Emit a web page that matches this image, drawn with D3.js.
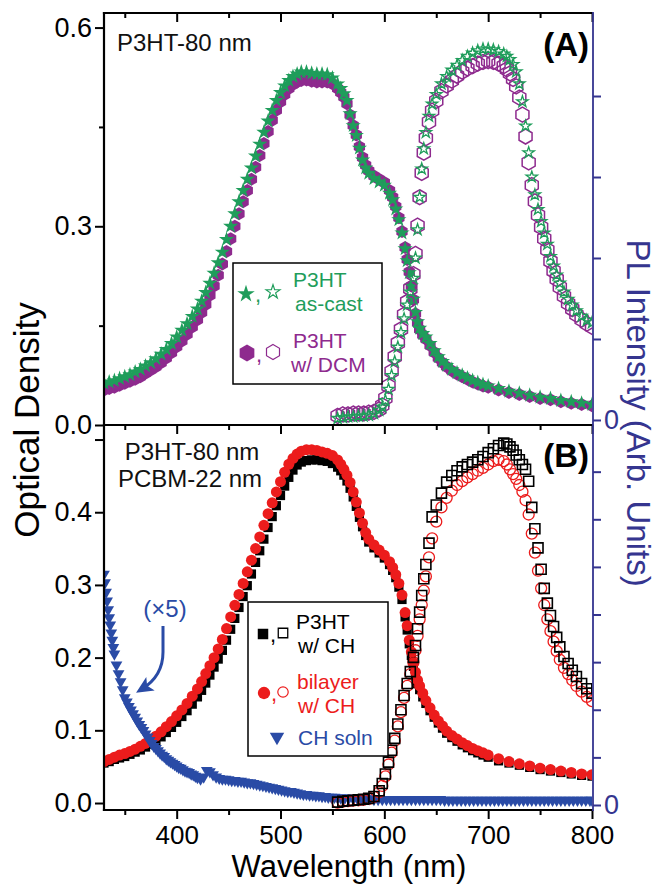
<!DOCTYPE html>
<html>
<head>
<meta charset="utf-8">
<script src="https://cdn.jsdelivr.net/npm/d3@7"></script>
<style>
  body { margin: 0; background: #fff; }
  svg { display: block; }
</style>
</head>
<body>
<div id="chart"></div>
<script>
// ---- data ----
// absorption wavelength grid (nm), denser where the curves are steep
const absWl = [330,335,340,345,350,355,360,365,370,375,380,385,390,395,400,405,410,415,
  420,424,428,432,436,440,444,448,452,456,460,464,468,472,476,480,484,488,492,496,500,504,508,512,516,520,
  525,530,535,540,545,550,555,
  558,561,564,567,570,573,576,579,582,585,
  590,595,600,605,
  608,611,614,617,620,
  622,624,626,628,630,632,634,
  637,640,
  644,648,652,656,660,
  665,670,675,680,685,690,695,700,
  710,720,730,740,750,760,770,780,790,800];

// panel A, optical density
const absAsCast = [.063,.065,.067,.070,.073,.076,.080,.084,.089,.094,.100,.107,.114,.123,.133,.143,.153,.164,
  .175,.187,.200,.214,.229,.245,.261,.280,.300,.319,.337,.354,.371,.388,.406,.424,.442,.459,.475,.490,.502,.512,.520,.526,.530,.533,
  .533,.531,.530,.530,.529,.524,.515,
  .508,.500,.490,.470,.452,.437,.418,.400,.388,.380,
  .372,.367,.362,.350,
  .340,.326,.310,.290,.266,
  .248,.230,.210,.190,.170,.156,.146,
  .138,.133,
  .123,.112,.103,.096,.090,
  .084,.079,.075,.071,.067,.064,.061,.059,
  .055,.051,.048,.045,.042,.040,.037,.035,.033,.031];
const absDCM = [.053,.055,.057,.060,.063,.066,.069,.073,.078,.083,.088,.094,.101,.109,.118,.127,.137,.148,
  .159,.170,.182,.196,.210,.226,.243,.262,.281,.300,.319,.337,.354,.371,.389,.407,.425,.443,.460,.475,.488,.499,.508,.514,.518,.520,
  .521,.519,.518,.518,.518,.515,.508,
  .502,.495,.485,.468,.452,.438,.420,.404,.392,.384,
  .376,.371,.366,.354,
  .344,.330,.313,.292,.268,
  .250,.231,.210,.189,.168,.154,.144,
  .136,.130,
  .120,.110,.101,.094,.088,
  .082,.077,.073,.069,.065,.062,.059,.057,
  .053,.049,.046,.043,.040,.038,.035,.033,.031,.029];

// panel B, optical density
const absBilayerCH = [.057,.060,.063,.066,.068,.071,.074,.078,.082,.087,.092,.098,.105,.112,.120,.128,.137,.147,
  .157,.167,.178,.189,.200,.212,.225,.240,.256,.272,.287,.302,.318,.334,.350,.366,.382,.398,.413,.428,.442,.455,.466,.474,.480,.484,
  .486,.486,.485,.483,.481,.478,.472,
  .466,.459,.451,.441,.428,.414,.399,.385,.372,.363,
  .355,.348,.341,.332,
  .324,.314,.302,.286,.262,
  .244,.224,.208,.193,.180,.169,.161,
  .151,.141,
  .131,.121,.113,.106,.099,
  .093,.088,.083,.079,.075,.072,.069,.066,
  .061,.057,.054,.051,.048,.046,.044,.042,.040,.039];
const absP3htCH = [.055,.057,.060,.062,.064,.067,.070,.073,.077,.081,.086,.091,.097,.104,.111,.119,.127,.136,
  .146,.155,.165,.176,.187,.198,.210,.224,.239,.254,.269,.284,.299,.315,.331,.347,.363,.379,.394,.409,.423,.436,.448,.458,.465,.469,
  .471,.472,.472,.471,.470,.467,.462,
  .457,.451,.443,.433,.421,.408,.393,.380,.368,.359,
  .351,.344,.337,.328,
  .320,.310,.297,.280,.256,
  .238,.219,.203,.188,.175,.164,.156,
  .146,.137,
  .127,.118,.110,.103,.096,
  .090,.085,.080,.076,.072,.069,.066,.063,
  .058,.055,.052,.049,.046,.044,.042,.040,.038,.037];

// CH solution (x5), panel B optical density
const chWl = [330,331,332,333,334,335,336,337,338,339,340,
  342,344,346,348,350,352,354,356,358,360,362,364,366,368,370,372,374,376,378,380,
  382,384,386,388,390,392,394,396,398,400,402,404,406,408,410,412,414,416,418,420,
  423,426,429,432,435,438,441,444,447,450,453,456,459,462,465,468,471,474,477,480,
  483,486,489,492,495,498,501,504,507,510,513,516,519,522,525,528,531,534,537,540,
  543,546,549,552,555,558,
  562,566,570,574,578,582,586,590,594,598,602,606,610,614,618,622,626,630,634,638,
  642,646,650,654,658,662,666,670,674,678,682,686,690,694,698,702,706,710,714,718,
  722,726,730,734,738,742,746,750,754,758,762,766,770,774,778,782,786,790,794,798,800];
const chSoln = [.315,.303,.290,.278,.266,.255,.245,.234,.224,.214,.205,
  .190,.178,.167,.156,.145,.139,.133,.128,.123,.118,.113,.108,.104,.100,.095,.091,.086,.082,.078,.075,
  .072,.069,.066,.064,.061,.059,.057,.055,.053,.051,.049,.048,.046,.044,.043,.042,.040,.039,.037,.035,
  .033,.036,.045,.043,.039,.036,.034,.033,.033,.032,.031,.031,.030,.030,.029,.028,.028,.027,.026,.025,
  .024,.023,.022,.021,.020,.019,.018,.017,.016,.016,.015,.014,.013,.012,.012,.011,.011,.010,.010,.009,
  .009,.008,.008,.008,.007,.007,
  .007,.007,.006,.006,.006,.006,.006,.005,.005,.005,.005,.005,.005,.005,.005,.005,.005,.005,.005,.005,
  .005,.005,.005,.005,.004,.004,.004,.004,.004,.004,.004,.004,.004,.004,.004,.004,.004,.004,.004,.004,
  .004,.004,.004,.004,.004,.004,.004,.004,.004,.004,.004,.004,.004,.004,.004,.004,.004,.004,.004,.004,.004];

// PL wavelength grid (nm)
const plWl = [555,560,565,570,575,580,585,590,595,
  598,601,604,607,610,613,616,619,622,625,628,
  630,632,634,636,638,640,
  643,646,
  650,655,660,665,670,675,680,685,690,695,700,705,710,715,
  718,721,724,727,730,733,736,739,742,745,748,751,754,757,760,763,766,769,
  773,777,781,785,790,795,800];

// panel A, PL (arb. units)
const plAsCast = [.02,.03,.04,.04,.05,.05,.06,.08,.12,
  .16,.24,.38,.55,.72,.90,1.08,1.25,1.42,1.58,1.75,
  2.0,2.35,2.75,3.1,3.35,3.55,
  3.75,3.9,
  4.02,4.15,4.24,4.32,4.38,4.44,4.49,4.53,4.56,4.58,4.58,4.57,4.55,4.52,
  4.49,4.45,4.39,4.3,4.15,3.93,3.63,3.3,3.0,2.78,2.6,2.45,2.31,2.17,2.02,1.9,1.79,1.69,
  1.58,1.49,1.42,1.35,1.28,1.23,1.2];
const plDCM = [.05,.07,.07,.08,.08,.08,.09,.10,.13,
  .18,.27,.42,.6,.78,.95,1.12,1.3,1.46,1.62,1.8,
  2.05,2.4,2.75,3.05,3.3,3.48,
  3.68,3.82,
  3.94,4.06,4.13,4.19,4.25,4.3,4.34,4.37,4.4,4.42,4.43,4.42,4.4,4.37,
  4.33,4.28,4.21,4.12,3.98,3.77,3.5,3.18,2.9,2.7,2.53,2.38,2.24,2.1,1.96,1.84,1.74,1.64,
  1.53,1.44,1.37,1.3,1.24,1.19,1.15];

// panel B, PL (arb. units)
const plP3htCH = [.06,.08,.09,.10,.11,.12,.14,.18,.3,
  .45,.65,.9,1.15,1.4,1.7,2.0,2.3,2.55,2.8,3.1,
  3.35,3.7,4.05,4.4,4.75,5.05,
  5.5,6.05,
  6.3,6.55,6.78,6.92,7.02,7.1,7.15,7.2,7.25,7.32,7.4,7.48,7.55,7.6,
  7.58,7.52,7.45,7.35,7.25,7.15,7.05,6.8,6.25,5.8,5.4,4.95,4.55,4.24,3.98,3.75,3.52,3.32,
  3.12,2.97,2.83,2.7,2.55,2.44,2.35];
const plBilayerCH = [.05,.07,.08,.09,.10,.11,.13,.17,.27,
  .4,.6,.85,1.1,1.35,1.65,1.95,2.25,2.5,2.75,3.0,
  3.25,3.55,3.9,4.2,4.5,4.8,
  5.2,5.6,
  5.95,6.25,6.45,6.6,6.72,6.8,6.88,6.95,7.02,7.08,7.15,7.22,7.25,7.22,
  7.15,7.05,6.95,6.85,6.72,6.58,6.4,6.1,5.7,5.3,4.92,4.55,4.2,3.9,3.65,3.43,3.23,3.05,
  2.88,2.75,2.62,2.5,2.38,2.27,2.18];

// ticks
const xMajor = [400, 500, 600, 700, 800];
const xMinor = [350, 450, 550, 650, 750];
const yAMajor = [0, 0.3, 0.6];
const yAMinor = [0.15, 0.45];
const yBMajor = [0, 0.1, 0.2, 0.3, 0.4, 0.5];
const plATicks = [0, 1, 2, 3, 4];
const plBTicks = [0, 1, 2, 3, 4, 5, 6, 7];

// ---- drawing ----
const FONT = '"Liberation Sans", Arial, Helvetica, sans-serif';
const GREEN = "#1f9d5b", PURPLE = "#8e2a8e", RED = "#ec1c1c", BLUE = "#2a4ba6", NAVY = "#35358f";
const W = 657, H = 884;
const L = 104, R = 592, TOP = 13, MID = 425, BOT = 810;

const svg = d3.select("#chart").append("svg")
    .attr("width", W).attr("height", H)
    .style("font-family", FONT);

const x = d3.scaleLinear().domain([330, 800]).range([L, R]);
const yA = d3.scaleLinear().domain([0, 0.622]).range([MID, TOP]);
const plA = d3.scaleLinear().domain([-0.062, 5.025]).range([MID, TOP]);
const yB = d3.scaleLinear().domain([-0.0096, 0.52]).range([BOT, MID]);
const plB = d3.scaleLinear().domain([-0.105, 7.98]).range([BOT, MID]);

// marker shapes
function hexagon(r) {
    const pts = d3.range(6).map(k => {
        const a = Math.PI / 180 * (-90 + 60 * k);
        return [r * Math.cos(a), r * Math.sin(a)];
    });
    return "M" + pts.map(p => p[0].toFixed(2) + "," + p[1].toFixed(2)).join("L") + "Z";
}
const starPath = s => d3.symbol(d3.symbolStar, s)();
const squarePath = s => d3.symbol(d3.symbolSquare, s)();
const circlePath = s => d3.symbol(d3.symbolCircle, s)();
const triDownPath = s => d3.symbol(d3.symbolTriangle, s)();

const defs = svg.append("defs");
defs.append("clipPath").attr("id", "clipA").append("rect")
    .attr("x", L).attr("y", TOP).attr("width", R - L).attr("height", MID - TOP);
defs.append("clipPath").attr("id", "clipB").append("rect")
    .attr("x", L).attr("y", MID).attr("width", R - L).attr("height", BOT - MID);

function drawSeries(g, wl, vals, yScale, pathD, opts) {
    g.append("g").selectAll("path")
        .data(wl.map((w, i) => [w, vals[i]]))
        .join("path")
        .attr("d", pathD)
        .attr("transform", d => `translate(${x(d[0])},${yScale(d[1])})${opts.rotate ? " rotate(180)" : ""}`)
        .attr("fill", opts.fill || "none")
        .attr("stroke", opts.stroke || "none")
        .attr("stroke-width", opts.sw || 0);
}

// Panel A
const gA = svg.append("g").attr("clip-path", "url(#clipA)");
drawSeries(gA, absWl, absDCM, yA, hexagon(6.5), { fill: PURPLE });
drawSeries(gA, absWl, absAsCast, yA, starPath(72), { fill: GREEN });
drawSeries(gA, plWl, plDCM, plA, hexagon(7.5), { stroke: PURPLE, sw: 1.5 });
drawSeries(gA, plWl, plAsCast, plA, starPath(40), { stroke: GREEN, sw: 1.3 });

// Panel B
const gB = svg.append("g").attr("clip-path", "url(#clipB)");
drawSeries(gB, absWl, absP3htCH, yB, squarePath(85), { fill: "#000" });
drawSeries(gB, absWl, absBilayerCH, yB, circlePath(95), { fill: RED });
drawSeries(gB, chWl, chSoln, yB, triDownPath(60), { fill: BLUE, rotate: true });
drawSeries(gB, plWl, plBilayerCH, plB, circlePath(95), { stroke: RED, sw: 1.3 });
drawSeries(gB, plWl, plP3htCH, plB, squarePath(100), { stroke: "#000", sw: 1.6 });

// ---- axes ----
function styleAxis(sel, color, labelSize) {
    sel.select(".domain").remove();
    sel.selectAll(".tick line").attr("stroke", color).attr("stroke-width", 2);
    sel.selectAll(".tick text").attr("fill", color)
        .style("font-size", labelSize + "px").style("font-family", FONT);
}

// horizontal axes: all ticks point down
[TOP, MID].forEach(yPos => {
    svg.append("g").attr("transform", `translate(0,${yPos})`)
        .call(d3.axisBottom(x).tickValues(xMajor).tickSize(9).tickFormat(""))
        .call(s => styleAxis(s, "#000", 25));
    svg.append("g").attr("transform", `translate(0,${yPos})`)
        .call(d3.axisBottom(x).tickValues(xMinor).tickSize(5).tickFormat(""))
        .call(s => styleAxis(s, "#000", 25));
});
svg.append("g").attr("transform", `translate(0,${BOT})`)
    .call(d3.axisBottom(x).tickValues(xMajor).tickSize(9).tickPadding(7).tickFormat(d3.format("d")))
    .call(s => styleAxis(s, "#000", 26));
svg.append("g").attr("transform", `translate(0,${BOT})`)
    .call(d3.axisBottom(x).tickValues(xMinor).tickSize(5).tickFormat(""))
    .call(s => styleAxis(s, "#000", 26));

// left axes
svg.append("g").attr("transform", `translate(${L},0)`)
    .call(d3.axisLeft(yA).tickValues(yAMajor).tickSize(9).tickPadding(3).tickFormat(d3.format(".1f")))
    .call(s => styleAxis(s, "#000", 27));
svg.append("g").attr("transform", `translate(${L},0)`)
    .call(d3.axisLeft(yA).tickValues(yAMinor).tickSize(5).tickFormat(""))
    .call(s => styleAxis(s, "#000", 27));
svg.append("g").attr("transform", `translate(${L},0)`)
    .call(d3.axisLeft(yB).tickValues(yBMajor).tickSize(9).tickPadding(3)
        .tickFormat(d => d >= 0.5 ? "" : d3.format(".1f")(d)))
    .call(s => styleAxis(s, "#000", 27));

// right axes (PL)
svg.append("g").attr("transform", `translate(${R + 1},0)`)
    .call(d3.axisRight(plA).tickValues(plATicks).tickSize(8).tickPadding(3).tickFormat(d => d === 0 ? "0" : ""))
    .call(s => styleAxis(s, NAVY, 27));
svg.append("g").attr("transform", `translate(${R + 1},0)`)
    .call(d3.axisRight(plB).tickValues(plBTicks).tickSize(8).tickPadding(3).tickFormat(d => d === 0 ? "0" : ""))
    .call(s => styleAxis(s, NAVY, 27));

// frame lines
const frame = svg.append("g").attr("stroke-linecap", "square");
frame.append("line").attr("x1", L).attr("x2", L).attr("y1", TOP).attr("y2", BOT).attr("stroke", "#000").attr("stroke-width", 2.2);
[TOP, MID, BOT].forEach(yPos => {
    frame.append("line").attr("x1", L).attr("x2", R).attr("y1", yPos).attr("y2", yPos)
        .attr("stroke", "#000").attr("stroke-width", 2.2);
});
frame.append("line").attr("x1", R + 1).attr("x2", R + 1).attr("y1", TOP).attr("y2", BOT)
    .attr("stroke", NAVY).attr("stroke-width", 1.8);

// axis titles
svg.append("text").attr("transform", "translate(39,420) rotate(-90)")
    .attr("text-anchor", "middle").style("font-size", "35px").attr("fill", "#000")
    .text("Optical Density");
svg.append("text").attr("transform", "translate(627,413) rotate(90)")
    .attr("text-anchor", "middle").style("font-size", "33px").attr("fill", NAVY)
    .text("PL Intensity (Arb. Units)");
svg.append("text").attr("x", 349).attr("y", 877)
    .attr("text-anchor", "middle").style("font-size", "31px").attr("fill", "#000")
    .text("Wavelength (nm)");

// panel annotations
function label(txt, xp, yp, size, color, opts = {}) {
    return svg.append("text").attr("x", xp).attr("y", yp)
        .attr("text-anchor", opts.anchor || "start")
        .style("font-size", size + "px")
        .style("font-weight", opts.bold ? "bold" : "normal")
        .attr("fill", color).text(txt);
}
label("P3HT-80 nm", 117, 51, 24, "#111");
label("(A)", 589, 56, 33, "#000", { anchor: "end", bold: true });
label("(B)", 589, 467, 33, "#000", { anchor: "end", bold: true });
label("P3HT-80 nm", 192, 460, 24, "#111", { anchor: "middle" });
label("PCBM-22 nm", 190, 487, 24, "#111", { anchor: "middle" });
label("(\u00d75)", 165, 617, 24, BLUE, { anchor: "middle" });

// curved arrow for (x5)
defs.append("marker").attr("id", "arrowHead")
    .attr("markerUnits", "userSpaceOnUse")
    .attr("viewBox", "-2 -10 20 20").attr("markerWidth", 20).attr("markerHeight", 20)
    .attr("refX", 10).attr("refY", 0).attr("orient", "auto")
    .append("path").attr("d", "M0,-8 L17,0 L0,8 L4,0 Z").attr("fill", BLUE);
svg.append("path")
    .attr("d", "M163,626 L163,652 Q163,676 142,689")
    .attr("fill", "none").attr("stroke", BLUE).attr("stroke-width", 3)
    .attr("marker-end", "url(#arrowHead)");

// legend text line
function legText(g, xp, yp, txt, color) {
    g.append("text").attr("x", xp).attr("y", yp).attr("fill", color).text(txt);
}

// legend A
const lgA = svg.append("g").style("font-size", "21px");
lgA.append("rect").attr("x", 233).attr("y", 263).attr("width", 149).attr("height", 121)
    .attr("fill", "#fff").attr("stroke", "#000").attr("stroke-width", 1.5);
lgA.append("path").attr("d", starPath(95)).attr("transform", "translate(246,294)").attr("fill", GREEN);
lgA.append("path").attr("d", starPath(60)).attr("transform", "translate(273,292)")
    .attr("fill", "none").attr("stroke", GREEN).attr("stroke-width", 1.2);
lgA.append("text").attr("x", 255).attr("y", 302).style("font-size", "22px").attr("fill", GREEN).text(",");
legText(lgA, 293, 287, "P3HT", GREEN);
legText(lgA, 295, 311, "as-cast", GREEN);
lgA.append("path").attr("d", hexagon(8.5)).attr("transform", "translate(247,353)").attr("fill", PURPLE);
lgA.append("path").attr("d", hexagon(7.5)).attr("transform", "translate(273,352)")
    .attr("fill", "none").attr("stroke", PURPLE).attr("stroke-width", 1.2);
lgA.append("text").attr("x", 256).attr("y", 362).style("font-size", "22px").attr("fill", PURPLE).text(",");
legText(lgA, 293, 348, "P3HT", PURPLE);
legText(lgA, 291, 372, "w/ DCM", PURPLE);

// legend B
const lgB = svg.append("g").style("font-size", "21px");
lgB.append("rect").attr("x", 248).attr("y", 602).attr("width", 140).attr("height", 154)
    .attr("fill", "#fff").attr("stroke", "#000").attr("stroke-width", 1.5);
lgB.append("path").attr("d", squarePath(110)).attr("transform", "translate(263,634)").attr("fill", "#000");
lgB.append("path").attr("d", squarePath(90)).attr("transform", "translate(283,633)")
    .attr("fill", "none").attr("stroke", "#000").attr("stroke-width", 1.3);
lgB.append("text").attr("x", 270).attr("y", 642).style("font-size", "22px").attr("fill", "#000").text(",");
legText(lgB, 296, 629, "P3HT", "#000");
legText(lgB, 298, 653, "w/ CH", "#000");
lgB.append("path").attr("d", circlePath(120)).attr("transform", "translate(264,693)").attr("fill", RED);
lgB.append("path").attr("d", circlePath(85)).attr("transform", "translate(283,692)")
    .attr("fill", "none").attr("stroke", RED).attr("stroke-width", 1.2);
lgB.append("text").attr("x", 271).attr("y", 701).style("font-size", "22px").attr("fill", RED).text(",");
legText(lgB, 297, 689, "bilayer", RED);
legText(lgB, 298, 713, "w/ CH", RED);
lgB.append("path").attr("d", triDownPath(90)).attr("transform", "translate(277,737) rotate(180)").attr("fill", BLUE);
legText(lgB, 298, 745, "CH soln", BLUE);
</script>
</body>
</html>
